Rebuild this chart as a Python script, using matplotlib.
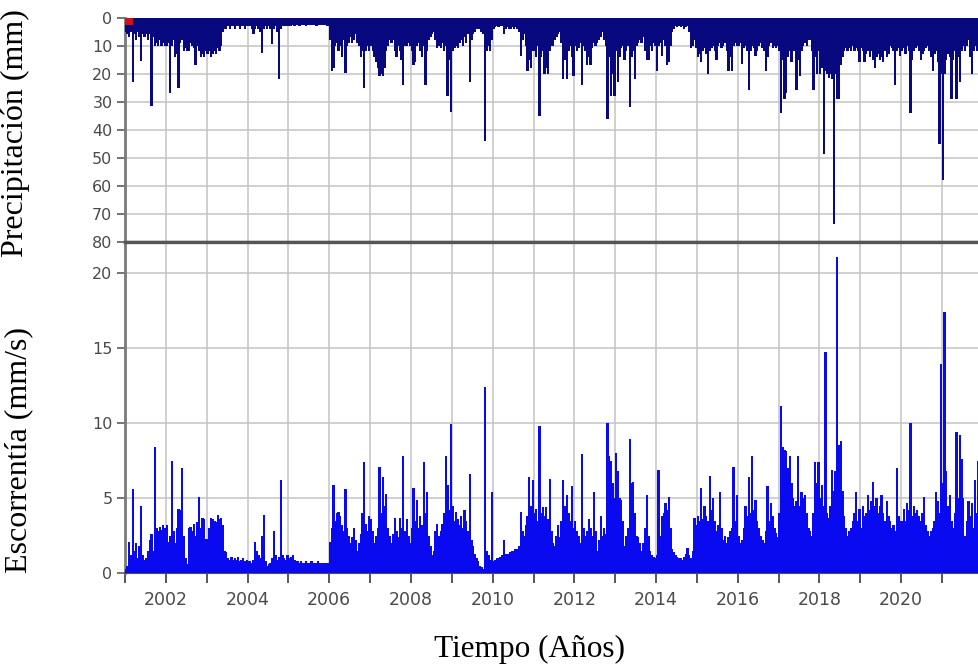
import numpy as np
import matplotlib
matplotlib.use("Agg")
import matplotlib.pyplot as plt

# semi-monthly values (24 per year)
years = list(range(2001, 2022))
bins_per_year = 24

precip_mm = [
    5, 6, 7, 5, 23, 6, 8, 5, 7, 15.5, 6, 7, 6, 8, 6, 31.5, 7, 10, 9, 10, 8, 10, 9, 10,      # 2001
    10, 9, 27, 10, 8, 14, 13, 25, 9, 8, 12, 11, 12, 12, 9, 10, 11, 17, 10, 12, 14, 13, 14, 12,  # 2002
    13, 12, 14, 13, 12, 13, 11, 12, 10, 5, 4, 4, 3, 4, 3, 3, 4, 3, 3, 4, 3, 3, 4, 3,         # 2003
    3, 3, 4, 5.8, 4, 3, 4, 5, 12.5, 4, 3, 4, 3, 4, 9.5, 4, 3, 5, 22, 4, 3, 3, 3, 3,          # 2004
    3, 3, 2.5, 3, 2.5, 2.5, 3, 2.5, 2.5, 2.5, 3, 2.5, 2.5, 2.5, 2.5, 2.5, 3, 2.5, 2.5, 2.5, 2.5, 2.5, 3, 3,  # 2005
    8, 19, 18, 10, 9, 12, 10, 14, 8, 19.7, 10, 9, 7, 9, 8, 6, 9, 10, 14, 12, 25, 12, 10, 12,  # 2006
    10, 12, 14, 16, 18, 21, 20, 21, 18, 12, 10, 8, 9, 8, 12, 14, 10, 12, 15, 24, 10, 10, 9, 10,  # 2007
    12, 17, 16, 10, 9, 12, 14, 10, 24, 12, 8, 7, 6, 5, 8, 11, 10, 11, 9, 12, 10, 28, 15, 33.5,  # 2008
    12, 11, 10, 11, 9, 8, 10, 7, 9, 6, 23, 8, 6, 5, 4, 4, 4, 5, 6, 44, 12, 10, 12, 8,        # 2009
    4, 3.5, 3, 3.5, 3, 3, 6, 4, 3.5, 4, 4, 3.5, 4, 3.5, 4, 5, 13.6, 8, 6, 10, 19, 15, 18, 12,  # 2010
    12, 14, 10, 35, 14, 12, 20, 18, 20, 12, 10, 10, 8, 7, 6, 5, 9, 22, 15, 22, 12, 10, 14, 21,  # 2011
    10, 12, 11, 9, 24, 10, 12, 17, 14, 17, 11, 9, 10, 9, 8, 7, 5, 8, 10, 36, 14, 28, 20, 28,  # 2012
    12, 23, 14, 11, 10, 15, 12, 10, 32, 14, 12, 22, 10, 9, 8, 9, 7, 12, 15, 15, 10, 12, 9, 10,  # 2013
    19, 10, 9, 13.6, 8, 10, 17, 16, 10, 5, 4, 3, 3.5, 3, 3.5, 3, 4, 3.5, 3, 5, 11, 10, 8, 11,  # 2014
    14, 13, 16, 12, 11, 13, 20, 12, 11, 10, 12, 15, 10, 9, 11, 10, 9, 12, 19, 14, 19, 10, 9, 10,  # 2015
    10, 9, 16.6, 11, 10, 12, 26, 12, 10, 11, 13.6, 12, 10, 9, 11, 12, 19, 14, 10, 9, 11, 10, 11, 10,  # 2016
    12, 34, 15, 29, 27, 14, 12, 16, 12, 12, 25.7, 15, 21, 12, 10, 9, 10, 8, 8, 12, 25.7, 14, 20, 12,  # 2017
    20, 18, 48.6, 19, 20, 21.5, 20, 22, 73.7, 20, 29, 29, 17, 14, 12, 11, 12, 11, 12, 10, 12, 11, 12, 16,  # 2018
    11, 12, 16, 13, 12, 14, 12, 15, 18, 14, 13, 15, 14, 16, 12, 14, 13, 10, 11, 12, 24, 12, 11, 13.6,  # 2019
    12, 11, 13, 10, 12, 34, 15, 12, 11, 10, 12, 15, 13, 12, 11, 10, 12, 14, 19, 13, 12, 16, 45, 20,  # 2020
    58, 20, 15, 13, 14, 29, 15, 12, 29, 14, 23, 12, 10, 12, 10, 8, 14, 20, 12, 10, 12, 11, 10, 12,  # 2021
]

runoff = [
    0.3, 0.5, 2.1, 1.2, 5.6, 1.5, 2.0, 1.0, 1.8, 4.5, 1.2, 0.9, 1.0, 1.5, 2.2, 2.6, 1.5, 8.4, 3.0, 2.8, 3.1, 2.9, 3.2, 3.0,  # 2001
    3.2, 2.1, 2.5, 7.5, 2.8, 2.0, 3.0, 4.3, 4.2, 7.0, 2.5, 1.0, 0.6, 3.0, 3.1, 2.8, 3.3, 2.5, 3.4, 5.1, 3.0, 3.7, 3.6, 2.3,  # 2002
    2.3, 3.0, 3.7, 3.6, 3.5, 3.4, 3.9, 3.6, 3.7, 3.2, 1.5, 1.4, 1.0, 0.9, 1.1, 0.9, 1.0, 0.9, 1.1, 0.8, 0.9, 1.0, 0.8, 0.9,  # 2003
    0.8, 0.8, 0.7, 0.9, 2.1, 1.5, 1.2, 1.0, 2.5, 3.9, 0.8, 0.5, 0.6, 0.7, 1.0, 2.8, 1.2, 0.9, 1.1, 6.2, 1.2, 1.0, 0.9, 1.2,  # 2004
    1.0, 1.1, 1.2, 0.9, 0.8, 0.8, 0.7, 0.8, 0.7, 0.7, 0.8, 0.7, 0.7, 0.8, 0.7, 0.7, 0.7, 0.8, 0.7, 0.7, 0.7, 0.7, 0.7, 0.7,  # 2005
    2.1, 3.0, 5.9, 3.5, 4.0, 4.1, 3.8, 3.2, 2.8, 5.6, 3.0, 2.5, 2.0, 2.4, 3.0, 2.2, 1.5, 2.0, 2.6, 4.0, 7.4, 3.3, 2.8, 3.8,  # 2006
    3.6, 2.8, 2.0, 2.5, 3.0, 7.1, 4.0, 6.4, 4.5, 5.3, 3.0, 2.5, 2.0, 2.6, 3.7, 2.8, 2.4, 3.7, 3.0, 7.8, 2.8, 3.6, 2.5, 2.0,  # 2007
    3.0, 5.7, 3.5, 4.9, 3.0, 3.8, 3.2, 7.4, 4.0, 5.4, 2.5, 1.8, 1.2, 1.5, 2.8, 3.3, 2.5, 2.8, 3.3, 4.0, 7.8, 5.9, 4.2, 9.9,  # 2008
    4.5, 3.5, 4.1, 3.6, 3.2, 3.8, 3.0, 4.2, 3.5, 2.8, 6.6, 2.2, 1.8, 1.3, 1.0, 0.8, 0.5, 0.4, 0.3, 12.4, 1.5, 1.2, 0.9, 5.4,  # 2009
    0.8, 0.9, 1.0, 1.0, 1.1, 1.2, 2.2, 1.3, 1.3, 1.3, 1.4, 1.5, 1.5, 1.6, 1.6, 1.8, 4.1, 2.8, 2.5, 3.2, 3.8, 6.4, 4.5, 6.2,  # 2010
    4.0, 4.3, 3.5, 9.8, 4.0, 4.4, 3.8, 4.4, 3.6, 6.3, 2.8, 2.0, 1.8, 2.5, 3.2, 2.4, 3.5, 6.2, 4.5, 5.2, 4.0, 3.5, 5.8, 3.0,  # 2011
    3.5, 2.8, 2.5, 2.0, 7.9, 3.0, 2.5, 2.8, 3.6, 3.0, 2.5, 5.4, 2.8, 1.5, 2.2, 3.8, 2.5, 3.0, 2.6, 10.0, 7.8, 7.5, 6.0, 5.0,  # 2012
    8.0, 6.8, 5.0, 4.9, 3.5, 1.8, 2.5, 3.0, 8.9, 6.0, 6.1, 4.0, 2.5, 2.4, 2.0, 1.5, 2.0, 3.0, 5.2, 2.5, 1.5, 1.2, 1.1, 1.0,  # 2013
    1.2, 6.9, 2.5, 3.8, 4.0, 4.7, 4.2, 5.1, 3.0, 1.6, 1.4, 1.2, 1.1, 1.0, 1.0, 0.9, 1.1, 1.3, 1.7, 1.2, 1.0, 1.5, 3.7, 3.2,  # 2014
    3.8, 3.5, 5.7, 3.6, 4.5, 3.8, 3.5, 6.5, 4.2, 5.0, 3.5, 2.8, 3.2, 5.4, 3.0, 2.2, 2.5, 2.0, 2.4, 2.8, 3.0, 7.1, 3.5, 5.2,  # 2015
    2.5, 2.0, 2.2, 3.0, 4.5, 3.8, 6.4, 4.0, 7.8, 4.2, 4.9, 3.5, 3.0, 2.5, 2.2, 2.0, 2.8, 5.8, 3.5, 4.7, 3.8, 3.0, 2.7, 2.4,  # 2016
    4.0, 11.1, 8.4, 8.2, 8.1, 7.0, 7.8, 6.0, 5.0, 4.5, 4.8, 7.8, 4.5, 5.4, 5.0, 5.2, 4.0, 3.0, 2.8, 2.5, 4.0, 7.4, 6.0, 7.4,  # 2017
    5.0, 5.9, 4.5, 14.7, 4.0, 3.7, 4.5, 6.9, 5.5, 6.8, 21.0, 8.5, 8.8, 5.5, 3.8, 3.0, 2.5, 2.8, 3.0, 3.5, 4.0, 5.4, 3.5, 4.3,  # 2018
    3.0, 4.5, 3.8, 4.0, 5.2, 4.2, 4.8, 6.1, 4.5, 5.0, 4.0, 4.5, 5.2, 4.0, 3.5, 4.8, 3.8, 3.5, 3.0, 3.2, 2.8, 7.0, 3.8, 3.5,  # 2019
    3.5, 4.3, 3.5, 4.7, 4.2, 10.0, 3.8, 4.5, 4.0, 4.2, 3.8, 3.5, 4.0, 5.1, 3.2, 2.8, 2.5, 2.8, 3.0, 3.5, 5.4, 4.8, 4.0, 13.9,  # 2020
    6.0, 17.4, 6.8, 4.5, 5.2, 3.5, 3.0, 4.0, 9.4, 5.0, 9.2, 7.6, 5.0, 2.5, 3.5, 4.8, 3.8, 4.7, 3.0, 6.2, 4.0, 7.5, 5.0, 4.0,  # 2021
]

# first record flagged in red at the very start of the series
flag_start = [2001.0]
flag_value = [2.8]

precip_ticks = [0, 10, 20, 30, 40, 50, 60, 70, 80]
runoff_ticks = [0, 5, 10, 15, 20]

C_PREC = "#08087f"
C_RUN = "#0a0af0"
C_GRID = "#c3c3c3"
C_TICK = "#4a4a4a"

w = 1.0 / bins_per_year
t = np.arange(len(precip_mm)) * w + years[0] + w / 2

fig = plt.figure(figsize=(9.79, 6.65), dpi=100)
left = 125 / 979
ax1 = fig.add_axes([left, 1 - 242 / 665, 1 - left, (242 - 17.5) / 665])
ax2 = fig.add_axes([left, 1 - 573.3 / 665, 1 - left, (573.3 - 242) / 665], sharex=ax1)

# precipitation (inverted axis, bars hang from the top)
ax1.bar(t, precip_mm, width=w * 1.35, color=C_PREC, linewidth=0, antialiased=False, zorder=3)
ax1.bar(flag_start, flag_value, width=0.2, align="edge", color="#d0101a", linewidth=0, zorder=4)
ax1.set_ylim(80, 0)
ax1.set_yticks(precip_ticks)

# runoff
ax2.bar(t, runoff, width=w * 1.35, color=C_RUN, linewidth=0, antialiased=False, zorder=3)
ax2.set_ylim(0, 22.03)
ax2.set_yticks(runoff_ticks)

ax2.set_xlim(2001.0, 2021.905)
ax2.set_xticks(years)
ax2.set_xticklabels([str(y) if y % 2 == 0 else "" for y in years])

for ax in (ax1, ax2):
    ax.grid(True, color=C_GRID, linewidth=1.1, zorder=0)
    ax.set_axisbelow(True)
    ax.spines["right"].set_visible(False)
    ax.spines["left"].set_color("#7a7a7a")
    ax.spines["left"].set_linewidth(2.0)
    ax.tick_params(axis="y", direction="out", length=6, width=1.3, color="#6a6a6a",
                   labelsize=11.5, labelcolor=C_TICK, pad=3)

ax1.spines["top"].set_visible(False)
ax1.spines["bottom"].set_color("#555555")
ax1.spines["bottom"].set_linewidth(2.4)
ax1.tick_params(axis="x", bottom=False, labelbottom=False)

ax2.spines["top"].set_color("#555555")
ax2.spines["top"].set_linewidth(2.4)
ax2.spines["bottom"].set_color("#505050")
ax2.spines["bottom"].set_linewidth(1.5)
ax2.tick_params(axis="x", direction="out", length=7, width=1.3, color="#4a4a4a",
                labelsize=12.5, labelcolor=C_TICK, pad=6)

serif = ["Liberation Serif", "DejaVu Serif"]
fig.text(15 / 979, 1 - 133 / 665, "Precipitación (mm)", rotation=90, ha="center", va="center",
         fontsize=23, family=serif)
fig.text(19 / 979, 1 - 450 / 665, "Escorrentía (mm/s)", rotation=90, ha="center", va="center",
         fontsize=23, family=serif)
fig.text(530 / 979, 1 - 657 / 665, "Tiempo (Años)", ha="center", va="baseline",
         fontsize=22.5, family=serif)

fig.savefig("out.png", dpi=100)
